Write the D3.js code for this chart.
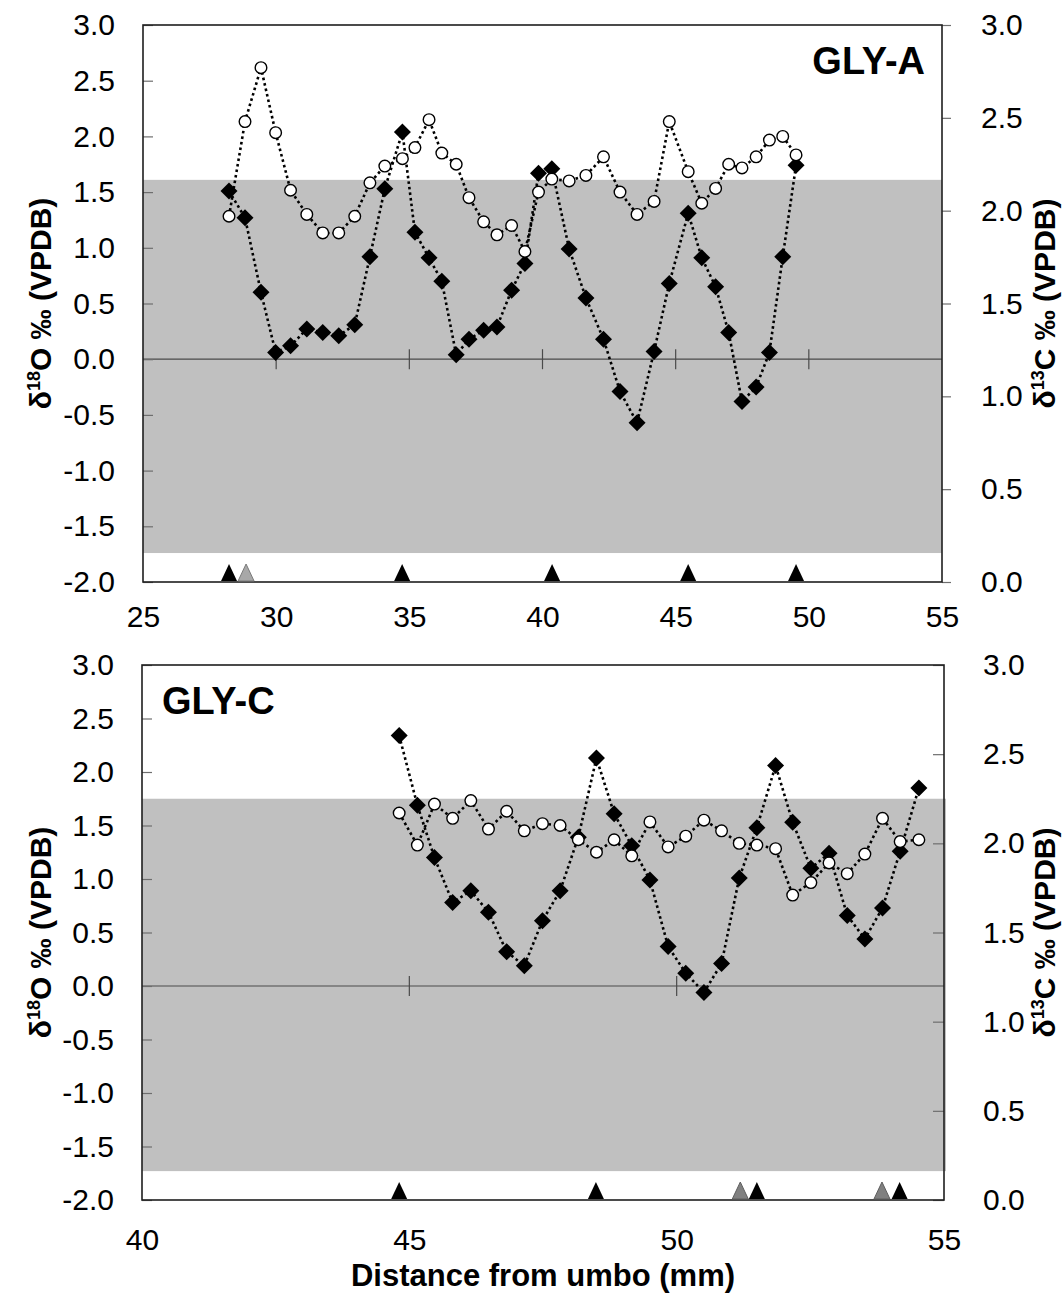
<!DOCTYPE html>
<html>
<head>
<meta charset="utf-8">
<script src="https://cdn.jsdelivr.net/npm/d3@7"></script>
<style>
  body { margin: 0; background: #fff; }
  svg { display: block; }
  text { font-family: "Liberation Sans", Arial, sans-serif; }
</style>
</head>
<body>
<svg id="chart" width="1063" height="1295"></svg>
<script>
// ---- GLY-A: sample positions (mm from umbo) and isotope values ----
const glyA_x = [28.23, 28.83, 29.43, 29.98, 30.54, 31.15, 31.75, 32.35, 32.95, 33.52,
                34.08, 34.74, 35.21, 35.74, 36.22, 36.76, 37.24, 37.79, 38.29, 38.84,
                39.34, 39.85, 40.35, 41.00, 41.63, 42.29, 42.91, 43.55, 44.19, 44.76,
                45.47, 45.98, 46.50, 46.99, 47.49, 48.02, 48.52, 49.02, 49.52];
const glyA_d18O = [1.51, 1.27, 0.60, 0.06, 0.12, 0.27, 0.24, 0.21, 0.31, 0.92,
                   1.53, 2.04, 1.14, 0.91, 0.70, 0.04, 0.18, 0.26, 0.29, 0.62,
                   0.86, 1.67, 1.71, 0.99, 0.55, 0.18, -0.29, -0.57, 0.07, 0.68,
                   1.31, 0.91, 0.65, 0.24, -0.38, -0.25, 0.06, 0.92, 1.74];
const glyA_d13C = [1.97, 2.48, 2.77, 2.42, 2.11, 1.98, 1.88, 1.88, 1.97, 2.15,
                   2.24, 2.28, 2.34, 2.49, 2.31, 2.25, 2.07, 1.94, 1.87, 1.92,
                   1.78, 2.10, 2.17, 2.16, 2.19, 2.29, 2.10, 1.98, 2.05, 2.48,
                   2.21, 2.04, 2.12, 2.25, 2.23, 2.29, 2.38, 2.40, 2.30];
const glyA_growthLines = [28.23, 34.73, 40.36, 45.47, 49.52];
const glyA_faintLines = [28.87];
const glyA_band = [-1.74, 1.61];

// ---- GLY-C ----
const glyC_x = [44.81, 45.15, 45.47, 45.81, 46.15, 46.48, 46.82, 47.15, 47.49, 47.82,
                48.16, 48.50, 48.83, 49.16, 49.50, 49.84, 50.17, 50.51, 50.84, 51.17,
                51.50, 51.85, 52.17, 52.51, 52.85, 53.19, 53.52, 53.85, 54.18, 54.53];
const glyC_d18O = [2.34, 1.69, 1.20, 0.78, 0.89, 0.69, 0.32, 0.19, 0.61, 0.89,
                   1.39, 2.13, 1.61, 1.31, 0.99, 0.37, 0.12, -0.06, 0.21, 1.01,
                   1.48, 2.06, 1.53, 1.10, 1.24, 0.66, 0.44, 0.73, 1.26, 1.85];
const glyC_d13C = [2.17, 1.99, 2.22, 2.14, 2.24, 2.08, 2.18, 2.07, 2.11, 2.10,
                   2.02, 1.95, 2.02, 1.93, 2.12, 1.98, 2.04, 2.13, 2.07, 2.00,
                   1.99, 1.97, 1.71, 1.78, 1.89, 1.83, 1.94, 2.14, 2.01, 2.02];
const glyC_growthLines = [44.81, 48.49, 51.50, 54.17];
const glyC_faintLines = [51.19, 53.84];
const glyC_band = [-1.73, 1.75];

// ---- tick labels ----
const leftTicks = [-2.0, -1.5, -1.0, -0.5, 0.0, 0.5, 1.0, 1.5, 2.0, 2.5, 3.0];
const rightTicks = [0.0, 0.5, 1.0, 1.5, 2.0, 2.5, 3.0];
const glyA_xTicks = [25, 30, 35, 40, 45, 50, 55];
const glyC_xTicks = [40, 45, 50, 55];

const svg = d3.select("#chart");
const fmt = d => d.toFixed(1);
const TICK_FONT = 30;

function styleAxis(g) {
  g.attr("font-family", null).attr("font-size", null);
  g.select(".domain").remove();
  g.selectAll(".tick line").attr("stroke", "#6e6e6e").attr("stroke-width", 1.2);
  g.selectAll(".tick text").attr("font-size", TICK_FONT).attr("fill", "#000");
}

function axisTitle(x, y, sup, rest) {
  const t = svg.append("text")
    .attr("transform", `translate(${x},${y}) rotate(-90)`)
    .attr("text-anchor", "middle")
    .attr("dy", "0.35em")
    .attr("font-weight", "bold")
    .attr("font-size", 30);
  t.append("tspan").text("δ");
  t.append("tspan").attr("font-size", 18).attr("dy", -11).text(sup);
  t.append("tspan").attr("dy", 11).text(rest);
}

function drawPanel(p) {
  const x = d3.scaleLinear().domain(p.xDomain).range([p.left, p.right]);
  const yL = d3.scaleLinear().domain([-2, 3]).range([p.bottom, p.top]);
  const yR = d3.scaleLinear().domain([0, 3]).range([p.bottom, p.top]);
  const g = svg.append("g");

  // shaded reference range
  g.append("rect")
    .attr("x", p.left).attr("width", p.right - p.left + p.bandOverhang)
    .attr("y", yL(p.band[1])).attr("height", yL(p.band[0]) - yL(p.band[1]))
    .attr("fill", "#c0c0c0");

  // zero line with distance ticks crossing it
  const y0 = yL(0);
  g.append("line")
    .attr("x1", p.left).attr("x2", p.right).attr("y1", y0).attr("y2", y0)
    .attr("stroke", "#4a4a4a").attr("stroke-width", 1.2);
  g.selectAll(null).data(p.xTicks.slice(1, -1)).join("line")
    .attr("x1", d => x(d)).attr("x2", d => x(d))
    .attr("y1", y0 - 10).attr("y2", y0 + 10)
    .attr("stroke", "#4a4a4a").attr("stroke-width", 1.2);

  // left axis (δ18O)
  g.append("g").attr("transform", `translate(${p.left},0)`)
    .call(d3.axisLeft(yL).tickValues(leftTicks).tickFormat(fmt)
      .tickSizeInner(-10).tickSizeOuter(0).tickPadding(28))
    .call(styleAxis);

  // right axis (δ13C)
  g.append("g").attr("transform", `translate(${p.right},0)`)
    .call(d3.axisRight(yR).tickValues(rightTicks).tickFormat(fmt)
      .tickSizeInner(p.rightTick).tickSizeOuter(0)
      .tickPadding(39 - Math.max(p.rightTick, 0)))
    .call(styleAxis);

  // distance axis labels
  g.append("g").attr("transform", `translate(0,${p.bottom})`)
    .call(d3.axisBottom(x).tickValues(p.xTicks).tickFormat(d3.format("d"))
      .tickSize(0).tickPadding(p.xPad))
    .call(styleAxis);

  // plot frame
  g.append("rect")
    .attr("x", p.left).attr("y", p.top)
    .attr("width", p.right - p.left).attr("height", p.bottom - p.top)
    .attr("fill", "none").attr("stroke", "#1e1e1e").attr("stroke-width", 1.6);

  // growth-line markers along the base
  const tri = "M-8,0L8,0L0,-17Z";
  g.selectAll(null).data(p.faint).join("path")
    .attr("d", tri)
    .attr("transform", d => `translate(${x(d)},${p.bottom - 1})`)
    .attr("fill", p.faintFill).attr("stroke", p.faintStroke).attr("stroke-width", 1);
  g.selectAll(null).data(p.growth).join("path")
    .attr("d", tri)
    .attr("transform", d => `translate(${x(d)},${p.bottom - 1})`)
    .attr("fill", "#000");

  // δ18O series: dotted line + filled diamonds
  const o = p.xs.map((v, i) => [v, p.o18[i]]);
  g.append("path")
    .attr("d", d3.line().x(d => x(d[0])).y(d => yL(d[1]))(o))
    .attr("fill", "none").attr("stroke", "#000")
    .attr("stroke-width", 2.6).attr("stroke-dasharray", "2.6 3");
  g.selectAll(null).data(o).join("path")
    .attr("d", "M0,-8.5L8.5,0L0,8.5L-8.5,0Z")
    .attr("transform", d => `translate(${x(d[0])},${yL(d[1])})`)
    .attr("fill", "#000");

  // δ13C series: dotted line + open circles
  const c = p.xs.map((v, i) => [v, p.c13[i]]);
  g.append("path")
    .attr("d", d3.line().x(d => x(d[0])).y(d => yR(d[1]))(c))
    .attr("fill", "none").attr("stroke", "#000")
    .attr("stroke-width", 2.6).attr("stroke-dasharray", "2.6 3");
  g.selectAll(null).data(c).join("circle")
    .attr("cx", d => x(d[0])).attr("cy", d => yR(d[1])).attr("r", 5.8)
    .attr("fill", "#fff").attr("stroke", "#000").attr("stroke-width", 1.4);

  // specimen label
  g.append("text")
    .attr("x", p.labelX).attr("y", p.labelY)
    .attr("text-anchor", p.labelAnchor)
    .attr("font-weight", "bold").attr("font-size", 38)
    .text(p.label);

  const mid = (p.top + p.bottom) / 2;
  axisTitle(40, mid, "18", "O ‰ (VPDB)");
  axisTitle(1044, mid, "13", "C ‰ (VPDB)");
}

drawPanel({
  xDomain: [25, 55], left: 143, right: 942, top: 25, bottom: 582,
  xs: glyA_x, o18: glyA_d18O, c13: glyA_d13C, band: glyA_band, bandOverhang: 0,
  growth: glyA_growthLines, faint: glyA_faintLines,
  faintFill: "#a8a8a8", faintStroke: "#7a7a7a",
  xTicks: glyA_xTicks, xPad: 24, rightTick: 9,
  label: "GLY-A", labelX: 925, labelY: 74, labelAnchor: "end"
});

drawPanel({
  xDomain: [40, 55], left: 142, right: 944, top: 665, bottom: 1200,
  xs: glyC_x, o18: glyC_d18O, c13: glyC_d13C, band: glyC_band, bandOverhang: 2,
  growth: glyC_growthLines, faint: glyC_faintLines,
  faintFill: "#808080", faintStroke: "#5e5e5e",
  xTicks: glyC_xTicks, xPad: 29, rightTick: -11,
  label: "GLY-C", labelX: 162, labelY: 714, labelAnchor: "start"
});

svg.append("text")
  .attr("x", 543).attr("y", 1286)
  .attr("text-anchor", "middle")
  .attr("font-weight", "bold").attr("font-size", 31)
  .text("Distance from umbo (mm)");
</script>
</body>
</html>
